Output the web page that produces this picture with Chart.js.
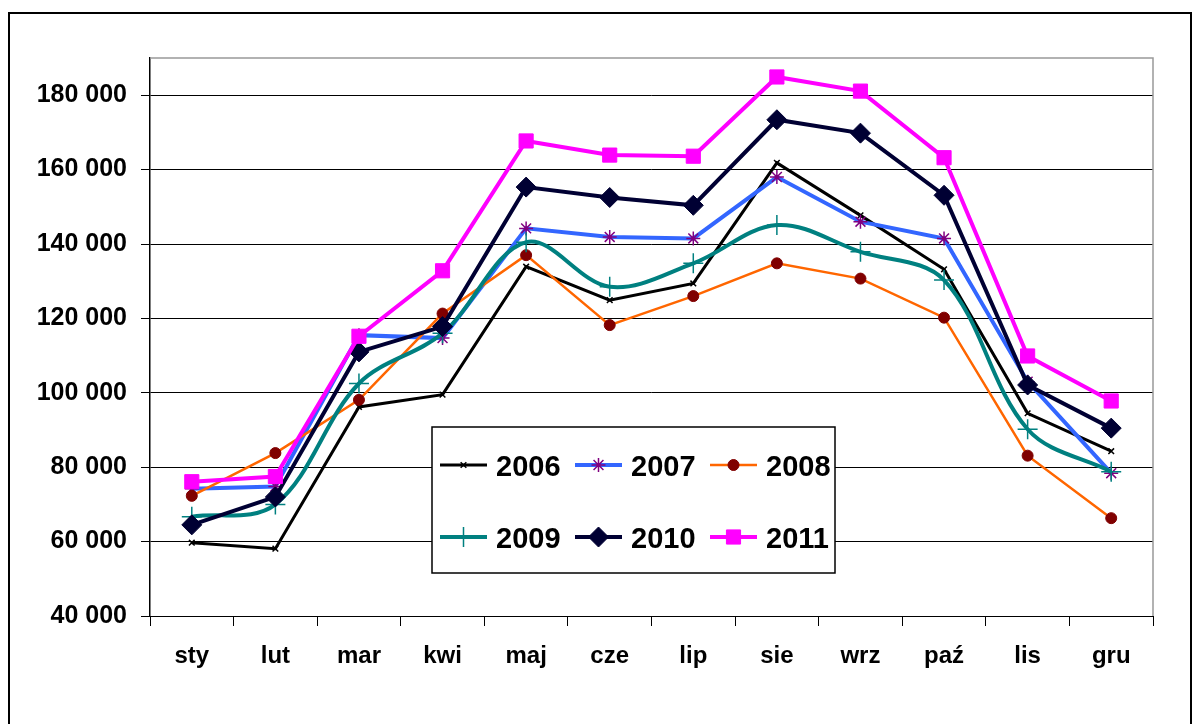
<!DOCTYPE html>
<html>
<head>
<meta charset="utf-8">
<script src="https://cdn.jsdelivr.net/npm/chart.js@4.4.0/dist/chart.umd.min.js"></script>
<style>
  html, body { margin: 0; padding: 0; background: #fff; }
  #wrap { position: relative; width: 1192px; height: 724px; overflow: hidden; }
  #frame { position: absolute; left: 8px; top: 12px; width: 1180px; height: 760px; border: 2px solid #000; }
  #salesChart { position: absolute; left: 0; top: 0; }
</style>
</head>
<body>
<div id="wrap">
  <div id="frame"></div>
  <canvas id="salesChart" width="1192" height="724"></canvas>
</div>
<script>
const months = ["sty", "lut", "mar", "kwi", "maj", "cze", "lip", "sie", "wrz", "paź", "lis", "gru"];
const yTicks = [40000, 60000, 80000, 100000, 120000, 140000, 160000, 180000];
const years = ["2006", "2007", "2008", "2009", "2010", "2011"];

const v2006 = [59700, 58100, 96200, 99500, 133900, 124900, 129400, 161800, 147700, 133200, 94500, 84300];
const v2007 = [74200, 74800, 115500, 114700, 144200, 141900, 141500, 158000, 146000, 141500, 103000, 78400];
const v2008 = [72300, 83800, 98100, 121300, 137000, 118200, 126000, 134800, 130700, 120200, 83100, 66300];
const v2009 = [66700, 70000, 102500, 116000, 140500, 128500, 134800, 145100, 137900, 130300, 90200, 78800];
const v2010 = [64500, 72000, 111000, 117800, 155300, 152500, 150400, 173400, 169800, 153100, 102100, 90500];
const v2011 = [76100, 77500, 115200, 132800, 167700, 163900, 163600, 184900, 181100, 163200, 109900, 97800];

const FONT = "'Liberation Sans', Arial, sans-serif";

function fmt(v) {
  return String(v).replace(/\B(?=(\d{3})+(?!\d))/g, " ");
}

// gray top / right border of the plot area
const plotFrame = {
  id: "plotFrame",
  beforeDatasetsDraw(chart) {
    const { ctx, chartArea: a } = chart;
    ctx.save();
    ctx.strokeStyle = "#999";
    ctx.lineWidth = 1.5;
    ctx.beginPath();
    ctx.moveTo(a.left, a.top);
    ctx.lineTo(a.right, a.top);
    ctx.lineTo(a.right, a.bottom);
    ctx.stroke();
    ctx.restore();
  },
};

// boxed legend inside the plot, 2 rows x 3 columns
const boxLegend = {
  id: "boxLegend",
  afterDraw(chart) {
    const ctx = chart.ctx;
    ctx.save();
    ctx.fillStyle = "#fff";
    ctx.fillRect(432, 427, 403, 146);
    ctx.strokeStyle = "#000";
    ctx.lineWidth = 1.5;
    ctx.strokeRect(432, 427, 403, 146);

    chart.data.datasets.forEach((ds, i) => {
      const col = i % 3;
      const row = Math.floor(i / 3);
      const x0 = 440 + col * 135;
      const y = row === 0 ? 465 : 537;
      ctx.strokeStyle = ds.borderColor;
      ctx.lineWidth = ds.borderWidth;
      ctx.beginPath();
      ctx.moveTo(x0, y);
      ctx.lineTo(x0 + 47, y);
      ctx.stroke();

      ctx.fillStyle = ds.pointBackgroundColor;
      ctx.strokeStyle = ds.pointBorderColor;
      ctx.lineWidth = ds.pointBorderWidth;
      Chart.helpers.drawPoint(ctx, {
        pointStyle: ds.pointStyle,
        radius: ds.pointRadius,
        rotation: 0,
        borderWidth: ds.pointBorderWidth,
      }, x0 + 23.5, y);

      ctx.fillStyle = "#000";
      ctx.font = "bold 29px " + FONT;
      ctx.textAlign = "left";
      ctx.textBaseline = "alphabetic";
      ctx.fillText(ds.label, x0 + 56, y + 11);
    });
    ctx.restore();
  },
};

const seriesValues = [v2006, v2007, v2008, v2009, v2010, v2011];
const styles = [
  { line: "#000000", width: 3, point: "crossRot", r: 4, fill: "#000000", border: "#000000", bw: 1.5 },
  { line: "#3366FF", width: 4, point: "star", r: 7, fill: "#800080", border: "#800080", bw: 1.5 },
  { line: "#FF6600", width: 2.5, point: "circle", r: 5.5, fill: "#800000", border: "#800000", bw: 1 },
  { line: "#008080", width: 4, point: "cross", r: 10, fill: "#008080", border: "#008080", bw: 1.5, tension: 0.35 },
  { line: "#000033", width: 4, point: "rectRot", r: 10, fill: "#000033", border: "#000033", bw: 1 },
  { line: "#FF00FF", width: 4, point: "rect", r: 10, fill: "#FF00FF", border: "#FF00FF", bw: 1 },
];

const datasets = years.map((y, i) => ({
  label: y,
  data: seriesValues[i],
  borderColor: styles[i].line,
  borderWidth: styles[i].width,
  pointStyle: styles[i].point,
  pointRadius: styles[i].r,
  pointBackgroundColor: styles[i].fill,
  pointBorderColor: styles[i].border,
  pointBorderWidth: styles[i].bw,
  tension: styles[i].tension || 0,
  fill: false,
  order: years.length - i,
}));

const ctx = document.getElementById("salesChart");
new Chart(ctx, {
  type: "line",
  data: { labels: months, datasets: datasets },
  options: {
    responsive: false,
    animation: false,
    devicePixelRatio: 1,
    layout: { padding: { top: 58, right: 39, left: 0, bottom: 0 } },
    plugins: {
      legend: { display: false },
      tooltip: { enabled: false },
    },
    scales: {
      x: {
        offset: true,
        afterFit: (scale) => { scale.height = 108; },
        grid: {
          offset: true,
          drawOnChartArea: false,
          drawTicks: true,
          tickLength: 10,
          color: "#000",
          lineWidth: 1,
        },
        border: { display: true, color: "#000", width: 1 },
        ticks: {
          color: "#000",
          padding: 16,
          font: { family: FONT, size: 24, weight: "bold" },
          maxRotation: 0,
        },
      },
      y: {
        min: 40000,
        max: 190000,
        afterFit: (scale) => { scale.width = 150; },
        afterBuildTicks: (scale) => {
          scale.ticks = yTicks.map((v) => ({ value: v }));
        },
        grid: {
          color: "#000",
          lineWidth: 1,
          drawTicks: true,
          tickLength: 9,
        },
        border: { display: true, color: "#000", width: 1.5 },
        ticks: {
          color: "#000",
          padding: 14,
          font: { family: FONT, size: 25, weight: "bold" },
          callback: (v) => fmt(v),
        },
      },
    },
  },
  plugins: [plotFrame, boxLegend],
});
</script>
</body>
</html>
